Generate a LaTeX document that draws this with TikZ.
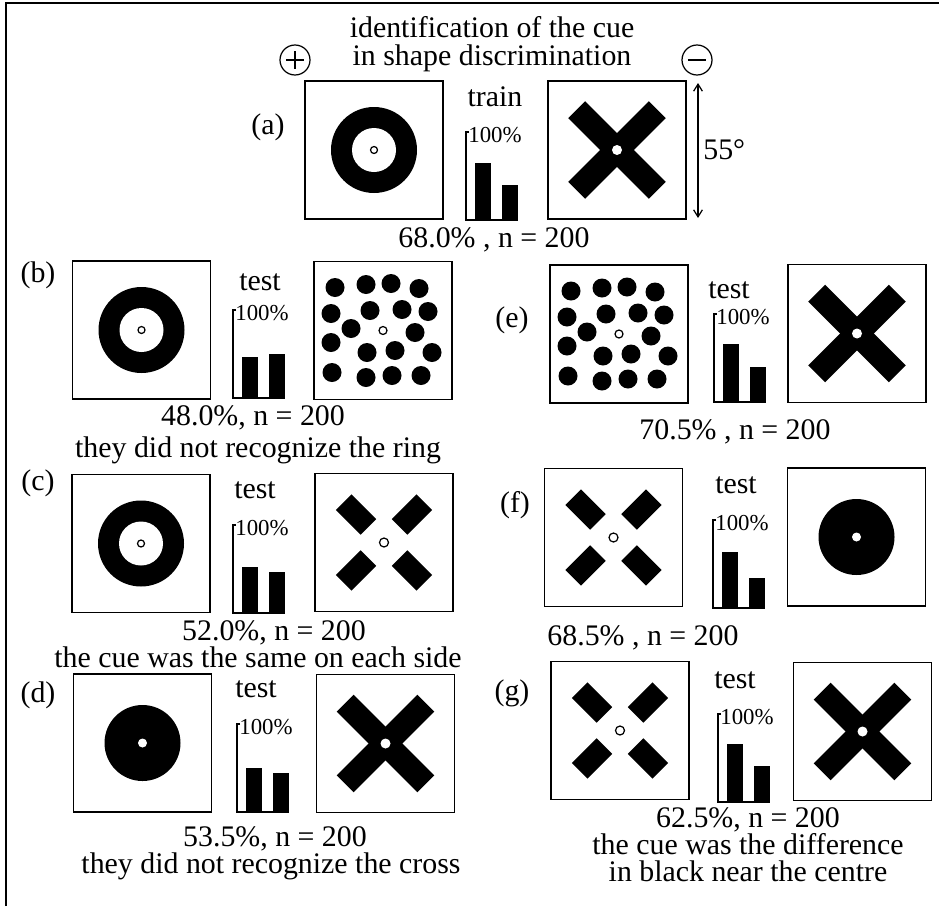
\documentclass[tikz,border=0pt]{standalone}
\usepackage{fontspec}
\setmainfont{Liberation Serif}
\usetikzlibrary{arrows.meta}
\newcommand{\tightlines}{\lineskiplimit=-50pt\relax}
\tikzset{
	stimbox/.style={draw, line width=0.8pt},
	lbl/.style={font=\fontsize{17}{19}\selectfont, inner sep=0pt},
	tightlbl/.style={align=center, inner sep=0pt, font=\fontsize{17}{#1}\selectfont},
	pct/.style={font=\fontsize{13}{14}\selectfont, anchor=west, inner sep=0pt},
	thinline/.style={line width=0.7pt},
}
\newcommand{\stimframe}[2]{\draw[stimbox] (#1-69,#2-69) rectangle (#1+69,#2+69);}
\newcommand{\ringstim}[2]{%
	\stimframe{#1}{#2}
	\fill (#1,#2) circle (43);
	\fill[white] (#1,#2) circle (22);
	\draw[thinline] (#1,#2) circle (3.5);
}
\newcommand{\discstim}[2]{%
	\stimframe{#1}{#2}
	\fill (#1,#2) circle (38);
	\fill[white] (#1,#2) circle (4.5);
}
\newcommand{\crossstim}[2]{%
	\stimframe{#1}{#2}
	\foreach \a in {45,-45}
		\fill[rotate around={\a:(#1,#2)}] (#1-57,#2-12) rectangle (#1+57,#2+12);
	\fill[white] (#1,#2) circle (5);
}
\newcommand{\brokenstim}[2]{%
	\stimframe{#1}{#2}
	\foreach \a in {45,135,225,315}
		\fill[rotate around={\a:(#1,#2)}] (#1+22,#2-11) rectangle (#1+57,#2+11);
	\draw[thinline] (#1,#2) circle (4.5);
}
\newcommand{\dotstim}[2]{%
	\stimframe{#1}{#2}
	\foreach \dx/\dy in {-48/-43,-17/-46,8/-47,36/-42,-52/-17,-13/-20,19/-21,45/-19,
		-32/-2,32/2,-52/12,-16/22,12/20,49/22,-51/42,-17/47,9/45,38/45}
		\fill (#1+\dx,#2+\dy) circle (9.5);
	\draw[thinline] (#1,#2) circle (4);
}
% name, axis x, base y, bar heights
\newcommand{\barchart}[5]{%
	\draw[thinline] (#2+3,#3-88) -- (#2,#3-88) -- (#2,#3) -- (#2+52,#3);
	\fill (#2+9,#3) rectangle (#2+25,#3-#4);
	\fill (#2+36,#3) rectangle (#2+52,#3-#5);
	\node[pct] (#1) at (#2+2,#3-85) {100\%};
}
\begin{document}
\begin{tikzpicture}[x=0.02cm, y=-0.02cm]
	\useasboundingbox (0,0) rectangle (939,906);
	\draw[line width=1.2pt] (6,906) -- (6,3) -- (939,3);

	\node[tightlbl=15.6pt] (title) at (492,44) {\tightlines identification of the cue\\in shape discrimination};
	\draw[thinline] (295,60) circle (15);
	\draw[thinline] (286,60) -- (304,60) (295,51) -- (295,69);
	\draw[thinline] (697,60) circle (15);
	\draw[thinline] (688,60) -- (706,60);

	% (a)
	\node[lbl] (la) at (268,127) {(a)};
	\ringstim{374}{150}
	\crossstim{617}{150}
	\node[lbl] (traina) at (495,97) {train};
	\barchart{pa}{466}{220}{57}{35}
	\coordinate (hitop) at (698,83);
	\coordinate (hibot) at (698,218);
	\draw[thinline, {Straight Barb[length=4pt,width=5pt]}-{Straight Barb[length=4pt,width=5pt]}] (hitop) -- (hibot);
	\node[lbl, anchor=west] (deg) at (703,150) {55°};
	\node[lbl] (resa) at (494,240) {68.0\% , n = 200};

	% (b)
	\node[lbl] (lb) at (38,275) {(b)};
	\ringstim{141.5}{330}
	\dotstim{383}{330.5}
	\node[lbl] (testb) at (260,282) {test};
	\barchart{pb}{233}{398}{41}{44}
	\node[lbl] (resb) at (253,418) {48.0\%, n = 200};
	\node[lbl] (notb) at (258,450) {they did not recognize the ring};

	% (c)
	\node[lbl] (lc) at (38,483) {(c)};
	\ringstim{141}{543.5}
	\brokenstim{384}{542.5}
	\node[lbl] (testc) at (255,490) {test};
	\barchart{pc}{233}{613}{46}{41}
	\node[tightlbl=12.5pt] (resc) at (258,644) {\tightlines\hspace*{0.64cm}52.0\%, n = 200\\the cue was the same on each side};

	% (d)
	\node[lbl] (ld) at (38,695) {(d)};
	\discstim{142.5}{743}
	\crossstim{385.5}{743.5}
	\node[lbl] (testd) at (256,689) {test};
	\barchart{pd}{237}{812}{44}{39}
	\node[tightlbl=15.4pt] (resd) at (271,853) {\tightlines\hspace*{0.16cm}53.5\%, n = 200\\they did not recognize the cross};

	% (e)
	\node[lbl] (le) at (512,320) {(e)};
	\dotstim{619}{334}
	\crossstim{857}{333.5}
	\node[lbl] (teste) at (729,290) {test};
	\barchart{pe}{714}{402}{58}{35}
	\node[lbl] (rese) at (735,432) {70.5\% , n = 200};

	% (f)
	\node[lbl] (lf) at (515,505) {(f)};
	\brokenstim{613.5}{537.5}
	\discstim{856.5}{537}
	\node[lbl] (testf) at (736,485) {test};
	\barchart{pf}{713}{608}{56}{30}
	\node[lbl] (resf) at (643,638) {68.5\% , n = 200};

	% (g)
	\node[lbl] (lg) at (512,693) {(g)};
	\brokenstim{620}{730.5}
	\crossstim{862.5}{731.5}
	\node[lbl] (testg) at (735,680) {test};
	\barchart{pg}{718}{802}{58}{36}
	\node[tightlbl=13.1pt] (resg) at (748,845) {\tightlines 62.5\%, n = 200\\the cue was the difference\\[0.08cm]in black near the centre};
\end{tikzpicture}
\end{document}
